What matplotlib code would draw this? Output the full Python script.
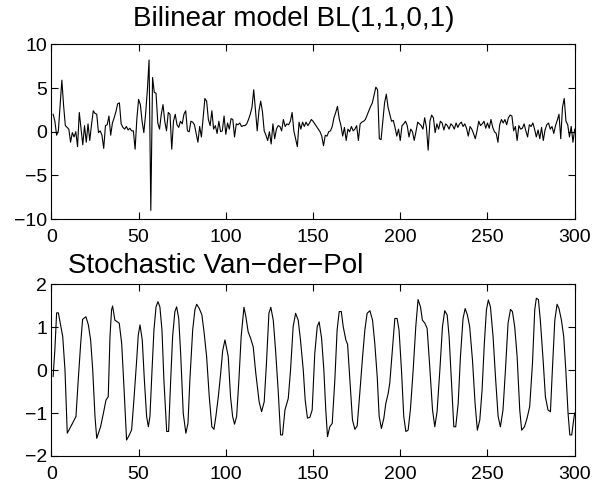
import numpy as np
import matplotlib
matplotlib.use("Agg")
import matplotlib.pyplot as plt

plt.rcParams['font.family'] = ['Liberation Sans', 'DejaVu Sans']

# Bilinear model BL(1,1,0,1), samples t = 1..300
bl_values = [
    2.0, 1.2, -0.4, 0.1, 3.0, 5.9, 3.0, 0.7, 0.5, 0.3,
    -1.2, -0.1, -0.6, 0.0, -1.7, 2.2, 0.4, -1.5, 0.7, -1.2,
    0.9, -1.0, 0.8, 2.4, 2.1, 2.0, -0.1, 0.1, -0.4, -1.9,
    0.7, 0.8, 1.8, -0.4, 1.0, 1.6, 2.3, 3.2, 3.3, 0.9,
    0.5, 0.3, 0.6, 0.2, 0.4, 0.1, 0.1, -2.0, 1.5, 3.7,
    3.1, 1.2, -0.1, 2.0, 4.7, 8.2, -9.0, 6.2, 4.5, 4.4,
    1.0, 0.3, 2.0, 3.1, 1.2, 0.1, 2.2, 2.0, -2.0, 1.2,
    2.0, 0.8, 0.5, 1.2, 0.9, 2.0, 2.4, 0.1, 0.0, 1.2,
    1.1, 0.8, -0.2, -1.2, 0.6, -0.6, 1.6, 3.8, 3.5, 1.4,
    0.7, 2.4, 0.3, 0.7, -0.2, 1.2, 0.0, 0.1, 1.8, -0.3,
    1.0, 0.3, 1.5, 1.4, -0.6, 0.9, 0.8, 1.0, 0.6, 0.7,
    0.7, 0.9, 1.4, 2.0, 2.8, 4.8, 2.4, 0.1, 2.4, 3.5,
    2.3, 0.1, -0.4, -1.0, 0.0, -1.4, 0.9, -0.8, 0.3, 0.7,
    0.6, 0.1, 1.4, 0.6, 0.9, 0.8, 1.2, 2.2, 0.1, -0.8,
    -1.7, 1.1, 0.3, 1.1, 0.6, 1.1, 0.7, 1.0, 1.4, 1.2,
    0.9, 0.6, 0.3, 0.0, -0.5, -1.6, -0.4, -0.5, 0.0, 0.1,
    0.6, 1.6, 2.2, 2.9, 1.5, 0.7, -0.5, 0.5, -1.0, 0.3,
    0.0, 0.6, 0.1, 0.3, 0.7, -1.0, 0.9, 1.1, 1.2, 1.4,
    1.9, 2.4, 2.9, 3.3, 4.2, 5.1, 4.8, -0.8, -0.9, 1.2,
    3.3, 4.3, 2.8, 2.0, 1.2, 1.3, 0.5, -0.5, 0.3, -1.0,
    0.7, 0.9, 1.2, 0.7, -0.6, 0.3, 0.0, -1.0, 0.0, 1.1,
    0.9, 0.7, 0.3, 1.6, 0.5, -2.1, 1.2, 1.9, 1.6, -0.1,
    0.9, 0.3, 1.2, 1.0, 0.2, 0.9, 0.7, 0.3, 0.9, 0.7,
    0.3, 1.0, 0.5, 0.9, 1.1, 0.6, 0.9, 0.4, -0.5, 0.6,
    0.3, -0.2, -0.8, 0.1, 1.2, 0.7, 0.9, 1.2, 0.4, 1.0,
    0.4, 1.4, 0.5, 0.0, -0.2, -1.2, 0.8, 1.4, 1.0, 1.4,
    0.8, 1.6, 1.9, 1.8, 0.1, 0.6, -1.0, 0.7, 0.3, 0.4,
    0.9, 0.1, -0.6, 0.8, 0.6, 1.0, 0.3, -0.6, 0.2, -0.8,
    0.5, -1.0, 0.2, 0.8, 1.0, 0.3, 0.6, -0.2, 0.7, 1.3,
    2.0, -0.8, 2.8, 3.8, 1.2, 0.8, -0.6, 0.6, -1.2, 0.3,
]
bl_t = np.arange(1, len(bl_values) + 1)

# Stochastic Van-der-Pol, read at its turning points
vdp_t = [1, 2, 3, 4, 6.5, 7.8, 9.1, 11.6, 14.1, 15.4, 16.8, 17.9, 19.8, 21.2,
         22.5, 23.7, 25, 26, 28.2, 29.8, 31.3, 32.6, 33.6, 34.5, 35.1, 36.4,
         38.9, 40.3, 41.6, 43.1, 44.7, 46, 47.3, 48.9, 49.8, 50.8, 52.1, 53.3,
         54.6, 55.6, 56.5, 57.7, 58.8, 60, 61.1, 62.2, 63.4, 64.5, 66.1, 67.2,
         68.4, 69.5, 70.8, 71.8, 73, 74.1, 75.6, 77.1, 78.3, 79.4, 81, 82.3,
         83.3, 84.8, 86.3, 87.5, 89, 90.5, 92, 93.2, 94.3, 95.7, 97, 98.2,
         99.5, 101.4, 102.7, 103.9, 105, 106.2, 107.5, 108.8, 110.4, 111.5,
         112.8, 114.2, 115.7, 117.2, 119.1, 120.5, 122, 123.3, 124.7, 125.8,
         127.2, 128.5, 130, 131.4, 132.5, 133.9, 135.8, 137.1, 138.6, 140,
         141.5, 142.8, 144.4, 145.5, 146.8, 148.2, 149.5, 151, 152.4, 153.5,
         154.9, 156.2, 157.3, 158.3, 159.6, 161, 162.5, 163.8, 165, 166.2,
         167.3, 168.8, 169.8, 171.1, 172.6, 174, 175.3, 176.8, 178.4, 179.7,
         181, 182.6, 184.1, 185.4, 186.8, 187.9, 189.2, 190.6, 191.7, 193.1,
         194, 195.4, 196.9, 198.2, 199.3, 200.7, 202, 203.2, 204.5, 205.8,
         207.4, 208.9, 210.2, 211.6, 212.7, 214.1, 215.4, 216.9, 218.5, 219.8,
         221.1, 222.7, 224.2, 225.5, 226.9, 228, 229.3, 230.7, 231.8, 233.2,
         234.5, 236, 237.2, 238.5, 239.8, 241.4, 242.9, 244.2, 245.6, 246.9,
         248.2, 249.4, 250.5, 251.7, 253.2, 254.7, 256.1, 257.4, 258.9, 260.3,
         261.8, 263.2, 264.3, 265.6, 267, 268.5, 269.6, 271.2, 272.7, 274.2,
         275.8, 277.1, 278, 279.2, 280.3, 281.9, 283.2, 284.7, 286.1, 287.2,
         288.6, 289.9, 291, 292.4, 293.7, 294.9, 296.2, 297.2, 298.3, 299.4,
         300]
vdp_x = [-0.15, 0.47, 1.33, 1.33, 0.78, 0.0, -1.47, -1.28, -1.08, -0.23, 0.62,
         1.18, 1.24, 1.05, 0.7, 0.0, -1.08, -1.59, -1.32, -1.01, -0.7, -0.62,
         0.78, 1.4, 1.49, 1.16, 1.09, 0.62, -0.39, -1.63, -1.51, -1.39, -0.7,
         0.23, 0.81, 1.05, 0.7, -0.23, -1.08, -1.32, -1.08, 0.0, 0.93, 1.47,
         1.59, 1.47, 0.93, -0.23, -1.43, -1.43, -0.23, 0.78, 1.36, 1.47, 1.2,
         0.39, -1.01, -1.47, -1.24, -0.23, 0.93, 1.41, 1.53, 1.43, 1.28, 0.89,
         0.31, -0.62, -1.32, -1.38, -1.08, -0.62, -0.1, 0.45,
         0.7, 0.31, -0.62, -1.08, -1.26, -1.08, -0.23, 0.78, 1.46, 1.24,
         0.89, 0.74, 0.54, -0.08, -0.74, -0.97, -0.74, 0.16, 1.32, 1.46,
         1.16, 0.47, -0.47, -1.51, -1.51, -0.93, -0.66, 0.0, 1.01, 1.32,
         1.16, 0.7, 0.0, -0.7, -1.12, -1.1, -0.93, 0.39, 1.01, 1.12,
         0.74, 0.0, -0.93, -1.55, -1.32, -1.24, -0.23, 0.93, 1.36, 1.36,
         1.01, 0.7, 0.6, -0.23, -1.16, -1.38, -1.3, -0.54, 0.31, 0.93,
         1.32, 1.38, 1.16, 0.62, -0.16, -1.08, -1.36, -1.12, -0.78, -0.54,
         -0.3, 0.42, 1.2, 1.2, 0.93, 0.0, -1.08, -1.43, -1.4, -0.93,
         0.0, 1.01, 1.64, 1.47, 1.16, 1.09, 0.97, 0.08, -0.93, -1.32,
         -0.97, 0.0, 1.01, 1.38, 1.28, 0.78, -0.23, -1.32, -1.32, -0.78,
         0.31, 1.2, 1.43, 1.28, 1.01, 0.23, -0.78, -1.4, -1.16, -0.47,
         0.62, 1.4, 1.63, 1.47, 0.78, -0.23, -1.08, -1.32, -0.93, 0.0,
         1.09, 1.41, 1.36, 1.01, 0.31, -0.93, -1.4, -1.32, -1.12, -0.85,
         0.16, 1.4, 1.67, 1.64, 1.16, 0.23, -0.62, -0.93, -0.97, 0.0,
         1.16, 1.53, 1.43, 1.16, 0.78, 0.0, -1.01, -1.51, -1.51, -1.16,
         -1.0]


def style_axes(ax):
    ax.tick_params(direction='in', top=True, right=True, length=5, width=0.8,
                   labelsize=14, pad=7)
    ax.tick_params(axis='y', pad=3)
    for s in ax.spines.values():
        s.set_linewidth(0.8)


fig = plt.figure(figsize=(5.94, 4.87), dpi=100)

ax1 = fig.add_axes([0.0865, 0.550, 0.881, 0.359])
ax1.plot(bl_t, bl_values, color='k', lw=0.8)
ax1.set_xlim(0, 300)
ax1.set_ylim(-10, 10)
ax1.set_xticks([0, 50, 100, 150, 200, 250, 300])
ax1.set_yticks([-10, -5, 0, 5, 10])
ax1.set_yticklabels(['\u221210', '\u22125', '0', '5', '10'])
style_axes(ax1)

ax2 = fig.add_axes([0.0865, 0.0637, 0.881, 0.353])
ax2.plot(vdp_t, vdp_x, color='k', lw=0.8)
ax2.set_xlim(0, 300)
ax2.set_ylim(-2, 2)
ax2.set_xticks([0, 50, 100, 150, 200, 250, 300])
ax2.set_yticks([-2, -1, 0, 1, 2])
ax2.set_yticklabels(['\u22122', '\u22121', '0', '1', '2'])
style_axes(ax2)

fig.text(294 / 594, 1 - 19 / 487, 'Bilinear model BL(1,1,0,1)', fontsize=20,
         ha='center', va='center')
fig.text(68 / 594, 1 - 266 / 487, 'Stochastic Van\u2212der\u2212Pol', fontsize=20,
         ha='left', va='center')

fig.savefig('out.png', dpi=100)
